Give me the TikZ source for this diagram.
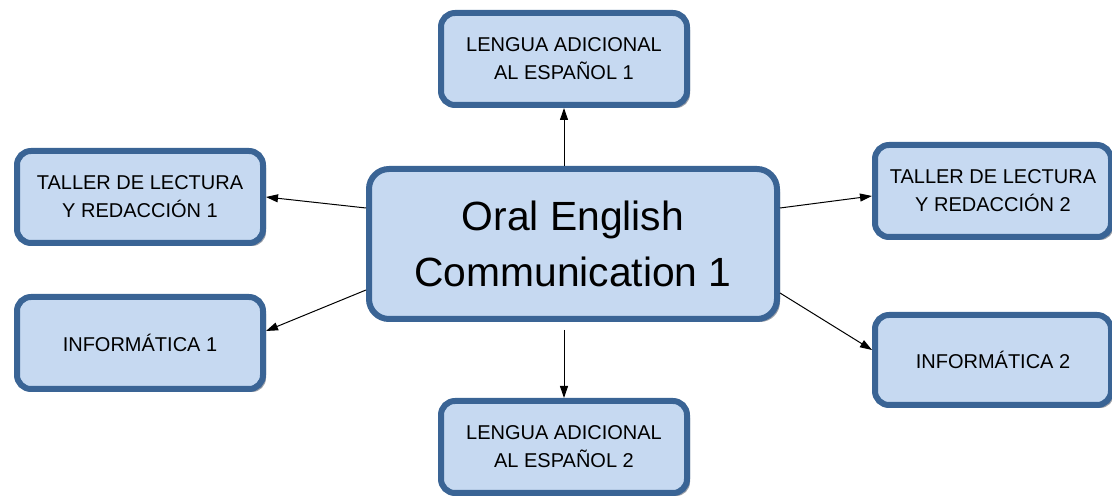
\documentclass[tikz,border=0pt]{standalone}
\usepackage{fontspec}
\setmainfont{Liberation Sans}
\usetikzlibrary{shadows,arrows.meta,calc}
\definecolor{boxborder}{HTML}{3A6495}
\definecolor{boxfill}{HTML}{C6D9F1}
\definecolor{shadowgray}{HTML}{9A9FA8}
\tikzset{
  base/.style={draw=boxborder, fill=boxfill, line width=6pt, rounded corners=14pt,
    align=center, inner sep=0pt,
    drop shadow={shadow xshift=3pt, shadow yshift=-3pt, fill=shadowgray, opacity=1}},
  smallbox/.style={base, minimum width=246pt, minimum height=92pt,
    font=\fontsize{20}{28}\selectfont},
  bigbox/.style={base, rounded corners=20pt, minimum width=408pt, minimum height=150pt,
    font=\fontsize{40.8}{56}\selectfont},
  arr/.style={line width=1pt, -{Triangle[length=12pt,width=8pt]}}
}
\begin{document}
\begin{tikzpicture}[x=1pt,y=1pt]
\useasboundingbox (0,0) rectangle (1112,501);
\node[bigbox] (C) at (573,257) {Oral English\\Communication 1};
\node[smallbox] (T) at (564,442) {LENGUA ADICIONAL\\AL ESPAÑOL 1};
\node[smallbox] (B) at (564,54) {LENGUA ADICIONAL\\AL ESPAÑOL 2};
\node[smallbox] (L1) at (140,304) {TALLER DE LECTURA\\Y REDACCIÓN 1};
\node[smallbox] (I1) at (140,158) {INFORMÁTICA 1};
\node[smallbox, minimum width=236pt] (L2) at (993,310) {TALLER DE LECTURA\\Y REDACCIÓN 2};
\node[smallbox, minimum width=236pt, minimum height=90pt] (I2) at (993,141) {INFORMÁTICA 2};
\draw[arr] (C.north -| T.south) -- (T.south);
\draw[arr] ($(C.south -| B.north)+(0,-8)$) -- (B.north);
\draw[arr] ([yshift=36pt]C.west) -- (L1.east);
\draw[arr] ([yshift=-46pt]C.west) -- ([yshift=12pt]I1.east);
\draw[arr] ([yshift=36pt]C.east) -- ([yshift=-5pt]L2.west);
\draw[arr] ([yshift=-49pt]C.east) -- ([yshift=10pt]I2.west);
\end{tikzpicture}
\end{document}
